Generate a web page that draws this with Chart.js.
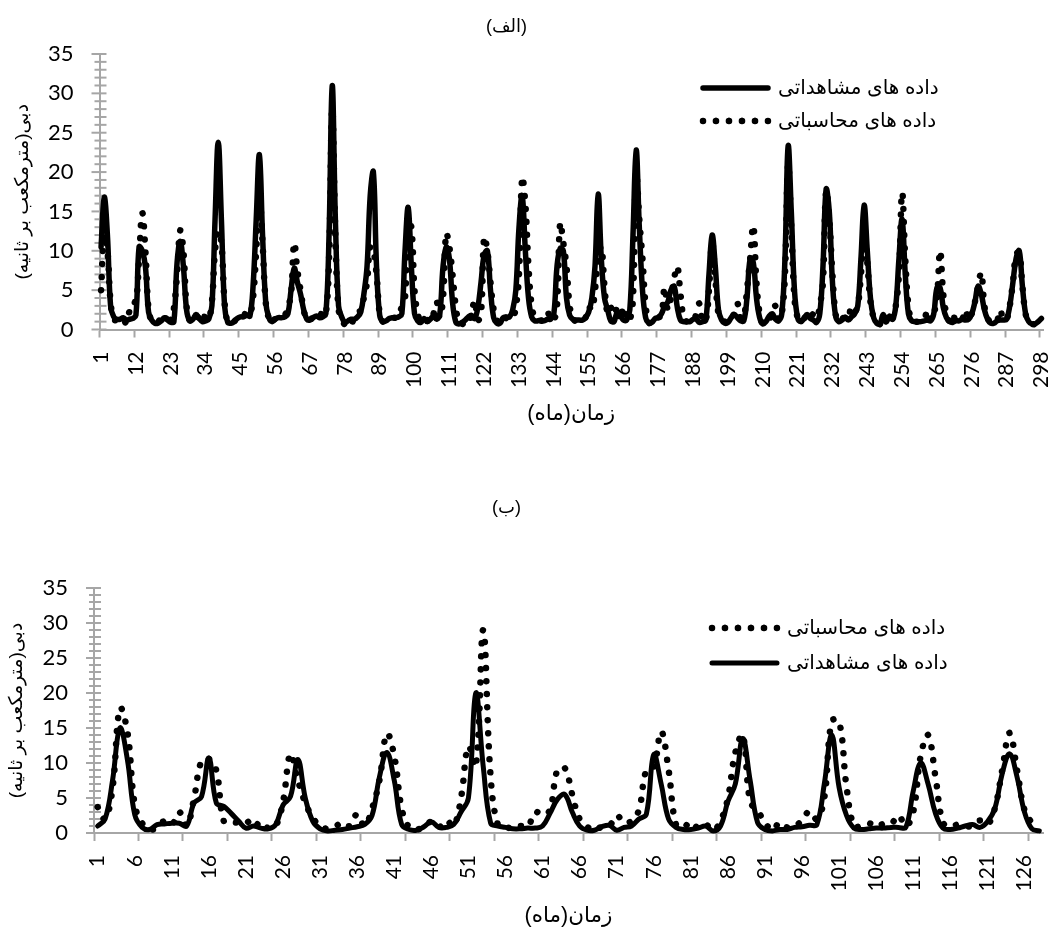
<!DOCTYPE html>
<html>
<head>
<meta charset="utf-8">
<style>
body { margin: 0; background: #fff; }
canvas { position: absolute; left: 0; direction: rtl; }
</style>
<script src="https://cdn.jsdelivr.net/npm/chart.js@4"></script>
</head>
<body>
<canvas id="chartA" width="1057" height="465" style="top:0"></canvas>
<canvas id="chartB" width="1057" height="466" style="top:465px"></canvas>
<script>
const observedLabel = 'داده های مشاهداتی';
const computedLabel = 'داده های محاسباتی';
const yTitle = 'دبی(مترمکعب بر ثانیه)';
const xTitle = 'زمان(ماه)';

const observedA = [
    10.5,16.8,12,3,1.6,1.3,1.3,1.5,1.2,1.3,
    1.4,1.8,10.5,10,8,2.2,1.2,0.8,0.8,1.1,
    1.5,1.2,0.9,1,8.5,11.2,8,2.5,1.1,1.3,
    1.9,1.4,1,1.1,1.3,3,14,23.8,14,3,
    0.9,0.8,1,1.4,1.6,1.6,1.8,1.7,5.5,14,
    22.2,12,3.5,1.5,1,1.3,1.5,1.5,1.6,2,
    5,7.8,6,4.5,2.5,1.3,1.2,1.5,1.7,1.5,
    1.6,2,12,31,14,3,1.6,0.9,1.1,1.3,
    1.3,1.6,2.2,4.5,8,17,20,8,1.8,1,
    1.1,1.4,1.5,1.5,1.6,2,10,15.5,8,2,
    1.1,0.9,1.4,1,1.3,1.7,1.3,2,8,10.5,
    9,3.5,1,0.7,0.9,1.2,1.6,1.8,1.4,2.8,
    6,9.5,10,5,1.5,0.8,0.8,1.5,1.6,1.6,
    2.5,5,13,17,10,4,1.6,1.1,1.1,1.2,
    1.1,1.3,1.3,2,8,10.3,10,4,1.8,1.3,
    1.2,1.2,1.2,1.5,2.2,4,8,17.2,9,4,
    2.5,1.1,1,2.2,1.8,1.2,1.2,2.5,12,22.8,
    13,5,1.5,0.8,0.9,1.4,1.5,2,3,3.5,
    5,5.5,2.8,1.2,1,1,1,1.3,1.3,0.9,
    1,1.2,7,12,8,2.5,1.2,0.8,0.9,1.5,
    1.9,1.5,1.1,1.1,4,9,8.5,4,1.5,0.7,
    1,1.7,2,1.3,1.1,2,9,23.3,15,5,
    1.5,1,1.4,1.9,1.4,1.2,0.9,2,8,17.8,
    15,6,1.7,1,1.2,1.6,1.2,1.6,2,3,
    9,15.8,10,4,1.5,0.8,0.7,1.9,1,1.7,
    1.3,3,9,14,7,2,1.1,1,1,1,
    1.1,1.2,1.1,2,5.3,5.3,2.8,1.5,1,0.9,
    1.1,1.1,1.3,1.2,1.3,2,3.5,5.5,4.5,2.5,
    1.3,0.8,0.8,1.1,1.2,1.2,1.3,3,6,9,
    10,5.5,2,1,0.7,0.7,1,1.4
];
const computedA = [
    5,12,10,3.5,1.3,1.2,1.5,1.3,0.8,2.4,
    3.5,3.5,9,14.8,10,2.5,1.1,0.8,1,1.3,
    0.8,2.1,1.2,2.7,7,12.6,10,3,1.1,1.2,
    1.8,1.3,0.9,1.9,1.5,3.5,10,12.5,11,3.5,
    0.9,0.8,1,1.5,1.6,1.7,2.3,2,4,10,
    17,11,3.5,1.4,0.8,1.4,1.5,1.6,1.8,2.8,
    4.5,11,7.5,5,2.5,1.2,1.2,1.6,1.5,1.5,
    2.4,2,9,28,12,2.5,1.6,0.6,1,0.7,
    1.6,2.2,2.4,4,6,10.5,10,7,2,1,
    1.1,1.4,1.5,1.5,1.6,3,4,13.5,13,5,
    2,1.1,0.9,1.2,0.9,2,3.5,1.5,4,12.2,
    10.5,7,3,1,0.7,1,0.8,2,3.7,1.2,
    2,11.7,10,6,2.5,1.2,0.8,0.8,1.5,1.7,
    1.5,2.8,7,19.3,16,8,3,1.5,1.2,1.1,
    1.4,2.2,1.2,1.2,3,13.5,11,8,3,1.5,
    1,0.9,1.1,1.5,2.9,2.5,5,9,10.5,5.5,
    2,2.8,1,2.9,1.2,2.9,1.2,1.2,4,20,
    14,9,3,1,0.7,1,1.5,1.8,5.4,2.5,
    4,6.5,8,4.5,1.5,1,1,1,2,3.3,
    1,1.1,5,11,6.5,2,1.5,1,0.9,1.6,
    2,3.3,1.4,1.5,5,9,13.2,6,2,0.7,
    1,1.5,1.6,3,1.2,2,7,21,13,4,
    1.5,1,1.4,1.7,1.3,2,1.5,3,6,17.6,
    14,7,2,1,1.3,1.7,1.5,2.9,2.3,3,
    7,12,8.5,3.5,1.5,0.8,0.7,1.6,1,1.8,
    1.4,3,7,17.4,9,3,1.2,1,1,1,
    1.3,2.4,1.2,2,4,10,4.5,2,1.1,2,
    1,1.1,1.3,2.5,1.2,2,3.5,5.5,7.2,3,
    1.4,1,0.8,1.1,2.5,1.2,1.3,3,6,9.5,
    9.8,5.5,2,1,0.7,0.7,1.1,1.4
];
const observedB = [
    1,2,7.5,15,10.5,2.6,0.8,0.5,1.2,1.3,
    1.4,1.4,1,4.3,5.2,10.7,4.3,3.8,2.8,1.7,
    0.7,1,0.7,0.6,1.2,4,5.2,10.5,5,1.7,
    0.6,0.3,0.4,0.5,0.7,0.9,1.2,2.5,8,11.5,
    7.5,1.2,0.5,0.4,0.9,1.6,0.8,0.8,1.2,3,
    5,20,9.5,1.4,1,0.8,0.6,0.6,0.7,0.7,
    1,2.8,4.8,5.5,3,1,0.4,0.4,0.9,1.1,
    0.4,0.8,1,2,2.7,11.2,7,2,0.8,0.5,
    0.5,0.7,1,0.3,1,4.5,7,13.5,7.5,1.5,
    0.5,0.3,0.5,0.5,0.8,0.9,1.1,1.2,7,14,
    6.5,2.5,0.7,0.5,0.6,0.7,0.7,0.8,0.8,0.8,
    6,10,7,2.8,0.7,0.5,0.7,1,1.2,0.8,
    1.6,3.5,8.5,11.3,8,3,0.6,0.3
];
const computedB = [
    3.7,2,6.4,17.8,14.5,4,1.4,0.5,0.8,1.7,
    1.2,3,1,5,10.3,10.6,8.9,1.7,1.6,1.5,
    1.8,0.8,1.6,0.7,1,4.5,11.3,7.5,4.3,2.2,
    1,0.6,0.9,1.5,1,2.7,1,3.5,7.5,14.2,
    11,3.5,0.8,0.5,0.9,1.6,0.8,1.8,1,5,
    12.4,9.5,29,8,1.1,0.9,0.6,1,0.9,3,
    2.6,3.3,9,9.3,5.5,2,0.9,0.4,0.9,1,
    2.5,1.5,1.7,3.3,9,9.5,14.5,9,1.2,0.8,
    1.6,0.7,1.2,0.4,1.7,5,11.5,14,4.5,3.2,
    1.5,0.4,1.5,0.8,1,1.8,3.1,2,5,16,
    16,6.6,1,1,1.4,0.9,1.3,1.3,2.5,1,
    3,11,14,8,1.5,0.9,1.2,1,1,1.8,
    1.2,3.5,9,14.3,9,3.3,1.5,0.8
];
const monthsA = observedA.map((v, i) => String(i + 1));
const monthsB = observedB.map((v, i) => String(i + 1));

const gray = '#a6a6a6';
const digitFont = 'Lato, "Open Sans", sans-serif';
const persianFont = '"Liberation Sans", "DejaVu Sans", sans-serif';

// y marks cross the axis, the major ones reach further out
const yMarks = {
    id: 'yMarks',
    beforeDatasetsDraw(chart) {
        const y = chart.scales.y, x0 = chart.chartArea.left, c = chart.ctx;
        c.save();
        c.strokeStyle = gray;
        c.lineWidth = 2;
        y.ticks.forEach(t => {
            const py = y.getPixelForValue(t.value);
            c.beginPath();
            c.moveTo(x0 - (t.value % 5 === 0 ? 8 : 5), py);
            c.lineTo(x0 + 7, py);
            c.stroke();
        });
        c.restore();
    }
};

// the legend sits inside the plot and the title is off centre
const moveBoxes = {
    id: 'moveBoxes',
    afterLayout(chart, args, o) {
        const lg = chart.legend, pad = lg.options.labels.padding;
        lg.left = o.legendX - pad;
        lg.top = o.legendY - pad;
        chart.titleBlock.left -= o.titleShift;
        chart.titleBlock.right -= o.titleShift;
    }
};

function makeChart(id, s) {
    return new Chart(document.getElementById(id), {
        type: 'line',
        data: { labels: s.labels, datasets: s.datasets },
        plugins: [yMarks, moveBoxes],
        options: {
            responsive: false,
            animation: false,
            layout: { padding: { right: 14 } },
            elements: { point: { radius: 0 }, line: { tension: 0.4, borderJoinStyle: 'round' } },
            plugins: {
                tooltip: { enabled: false },
                title: {
                    display: true,
                    text: s.title,
                    color: '#000',
                    font: { family: persianFont, size: 18, weight: 'normal' },
                    padding: s.titlePadding
                },
                legend: {
                    position: 'chartArea',
                    align: 'start',
                    labels: {
                        color: '#000',
                        boxWidth: 65,
                        boxHeight: 0,
                        padding: s.legendGap,
                        font: { family: persianFont, size: 20 },
                        sort: s.legendSort
                    }
                },
                moveBoxes: { legendX: s.legendX, legendY: s.legendY, titleShift: 15 }
            },
            scales: {
                x: {
                    type: 'category',
                    offset: true,
                    afterFit(scale) {
                        scale.height = s.xHeight;
                        scale.paddingLeft = 0;
                        scale.paddingRight = 0;
                    },
                    grid: {
                        offset: true,
                        drawOnChartArea: false,
                        tickLength: 8,
                        tickWidth: 2,
                        tickColor: c => c.index % s.tickStep === 0 ? gray : 'transparent'
                    },
                    border: { color: gray, width: 2 },
                    ticks: {
                        autoSkip: false,
                        minRotation: 90,
                        maxRotation: 90,
                        padding: 14,
                        color: '#000',
                        font: { family: digitFont, size: 21 },
                        callback(v, i) { return i % s.labelStep === 0 ? this.getLabelForValue(v) : ''; }
                    },
                    title: {
                        display: true,
                        text: xTitle,
                        color: '#000',
                        font: { family: persianFont, size: 21.5 },
                        padding: { top: 0, bottom: s.xTitleBottom }
                    }
                },
                y: {
                    min: 0,
                    max: 35,
                    afterFit(scale) { scale.width = s.yWidth; },
                    grid: { drawOnChartArea: false, drawTicks: false },
                    border: { color: gray, width: 2 },
                    ticks: {
                        stepSize: 1,
                        autoSkip: false,
                        padding: 26,
                        color: '#000',
                        font: { family: digitFont, size: 22 },
                        callback: v => v % 5 === 0 ? v : ''
                    },
                    title: {
                        display: true,
                        text: yTitle,
                        color: '#000',
                        font: { family: persianFont, size: 19 },
                        padding: { top: s.yTitleLeft, bottom: 0 }
                    }
                }
            }
        }
    });
}

const solid = { borderColor: '#000', backgroundColor: '#000', borderCapStyle: 'round', clip: false };
const dots = { borderColor: '#000', backgroundColor: '#000', borderCapStyle: 'round', borderDash: [0.01, 13], borderWidth: 6.5, clip: false };

makeChart('chartA', {
    labels: monthsA,
    title: '(الف)',
    titlePadding: { top: 16, bottom: 16.4 },
    legendGap: 13,
    legendX: 703,
    legendY: 78,
    legendSort: (a, b) => a.datasetIndex - b.datasetIndex,
    tickStep: 11,
    labelStep: 11,
    xHeight: 135.5,
    yWidth: 99.5,
    xTitleBottom: 37.8,
    yTitleLeft: 11.6,
    datasets: [
        { ...solid, label: observedLabel, data: observedA, borderWidth: 5.5 },
        { ...dots, label: computedLabel, data: computedA }
    ]
});

makeChart('chartB', {
    labels: monthsB,
    title: '(ب)',
    titlePadding: { top: 32, bottom: 69.4 },
    legendGap: 15,
    legendX: 712,
    legendY: 153,
    legendSort: (a, b) => b.datasetIndex - a.datasetIndex,
    tickStep: 6,
    labelStep: 5,
    xHeight: 98,
    yWidth: 94,
    xTitleBottom: 1.8,
    yTitleLeft: 5.6,
    datasets: [
        { ...solid, label: observedLabel, data: observedB, borderWidth: 5 },
        { ...dots, label: computedLabel, data: computedB }
    ]
});
</script>
</body>
</html>
